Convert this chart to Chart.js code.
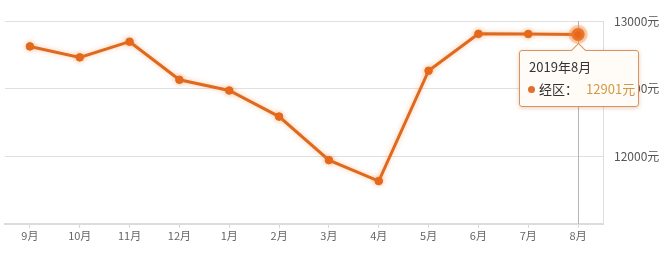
<!DOCTYPE html>
<html><head><meta charset="utf-8">
<script src="https://cdn.jsdelivr.net/npm/chart.js@4/dist/chart.umd.min.js"></script>
<style>
html,body{margin:0;padding:0;background:#fff;}
#wrap{position:relative;width:667px;height:253px;}
#tip{position:absolute;box-sizing:border-box;width:120px;height:57px;border:1px solid #d9935f;border-radius:3px;background:rgba(255,251,247,0.97);box-shadow:0 1px 4px rgba(180,110,60,0.35);font-family:"Noto Sans CJK SC","Noto Sans",sans-serif;color:#333;}
#tip .caret{position:absolute;top:-6px;width:10px;height:10px;background:rgba(255,251,247,1);border-left:1px solid #d9935f;border-top:1px solid #d9935f;transform:rotate(45deg);}
#tip .t{position:absolute;left:9px;top:7px;font-size:13px;line-height:18px;}
#tip .b{position:absolute;left:8px;top:29px;font-size:13px;line-height:18px;white-space:nowrap;}
#tip .dot{display:inline-block;width:7px;height:7px;border-radius:50%;background:#e0702c;margin-right:4px;vertical-align:1px;}
#tip .v{color:#d09a45;margin-left:8px;}
</style></head>
<body><div id="wrap"><canvas id="c" width="667" height="253"></canvas><div id="tip"><div class="caret"></div><div class="t"></div><div class="b"></div></div></div>
<script>
const categories = ['9月','10月','11月','12月','1月','2月','3月','4月','5月','6月','7月','8月'];
const prices = [12812, 12731, 12847, 12565, 12486, 12293, 11971, 11816, 12632, 12905, 12904, 12901];
const yTicks = [12000, 12500, 13000];
const seriesName = '经区';
const tipTitle = '2019年8月';
const unit = '元';
const activeIndex = 11;

const crosshair = {
  id:'crosshair',
  beforeDatasetsDraw(chart){
    const {ctx, chartArea:a, scales:{x}} = chart;
    const cx = Math.round(x.getPixelForValue(activeIndex)) + 0.5;
    ctx.save();
    ctx.strokeStyle = '#b5b5b5'; ctx.lineWidth = 1;
    ctx.beginPath(); ctx.moveTo(cx, a.top); ctx.lineTo(cx, a.bottom); ctx.stroke();
    ctx.restore();
  },
  beforeDatasetDraw(chart){
    const ctx = chart.ctx; ctx.save();
    ctx.shadowColor = 'rgba(235,130,50,0.45)'; ctx.shadowBlur = 5;
  },
  afterDatasetDraw(chart){ chart.ctx.restore(); }
};

const radii = prices.map((_, i) => i === activeIndex ? 6.5 : 3.8);
const borders = prices.map((_, i) => i === activeIndex ? 'rgba(240,140,70,0.35)' : '#e06a20');
const bw = prices.map((_, i) => i === activeIndex ? 6 : 1);

const chart = new Chart(document.getElementById('c'), {
  type:'line',
  data:{labels:categories, datasets:[{label:seriesName, data:prices, borderColor:'#df6a1f', borderWidth:3, tension:0,
    pointRadius:radii, pointBackgroundColor:'#e6661a', pointBorderColor:borders, pointBorderWidth:bw, fill:false}]},
  options:{
    responsive:false, animation:false, devicePixelRatio:1,
    layout:{autoPadding:false, padding:{left:5, right:8, top:21, bottom:9}},
    plugins:{legend:{display:false}, tooltip:{enabled:false}},
    scales:{
      x:{offset:true,
        afterFit(s){ s.paddingLeft = 0; s.paddingRight = 0; },
        grid:{offset:false, drawOnChartArea:false, drawTicks:true, tickLength:4, color:'#d6d6d6'},
        border:{display:true, color:'#dcdcdc', width:2},
        ticks:{color:'#666', font:{family:'"Noto Sans CJK SC","Noto Sans",sans-serif', size:11}, padding:1.5, maxRotation:0, autoSkip:false}},
      y:{position:'right', min:11500, max:13000,
        afterBuildTicks(s){ s.ticks = yTicks.map(v => ({value:v})); },
        afterFit(s){ s.width = 56; },
        grid:{color:'#e0e0e0', drawTicks:false},
        border:{display:true, color:'#dedede', width:1},
        ticks:{color:'#555', padding:11, font:{family:'"Noto Sans CJK SC","Noto Sans",sans-serif', size:12}, callback:v => v + unit}}
    }
  },
  plugins:[crosshair]
});

(function(){
  const ax = chart.scales.x.getPixelForValue(activeIndex);
  const ay = chart.scales.y.getPixelForValue(prices[activeIndex]);
  const tip = document.getElementById('tip');
  const tl = ax - 59, tt = ay + 16;
  tip.style.left = tl + 'px'; tip.style.top = tt + 'px';
  tip.querySelector('.caret').style.left = (ax - tl - 6) + 'px';
  tip.querySelector('.t').textContent = tipTitle;
  tip.querySelector('.b').innerHTML = '<span class="dot"></span>' + seriesName + '：<span class="v">' + prices[activeIndex] + unit + '</span>';
})();
</script></body></html>
